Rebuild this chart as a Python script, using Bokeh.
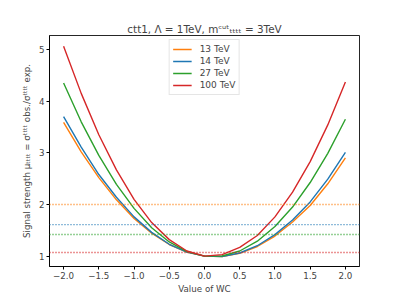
from bokeh.plotting import figure
from bokeh.models import Span, FixedTicker, Range1d, Legend, LegendItem
from bokeh.embed import file_html
from bokeh.resources import INLINE

# ---- data ----
wc = [-2.0, -1.75, -1.5, -1.25, -1.0, -0.75, -0.5, -0.25, 0.0,
      0.25, 0.5, 0.75, 1.0, 1.25, 1.5, 1.75, 2.0]
mu_13 = [3.59, 3.02, 2.52, 2.09, 1.73, 1.445, 1.226, 1.078, 1.0,
         0.992, 1.054, 1.187, 1.389, 1.66, 1.98, 2.40, 2.90]
mu_14 = [3.70, 3.11, 2.58, 2.14, 1.76, 1.46, 1.23, 1.08, 1.0,
         0.994, 1.061, 1.202, 1.417, 1.70, 2.05, 2.49, 3.01]
mu_27 = [4.35, 3.60, 2.95, 2.39, 1.925, 1.55, 1.275, 1.09, 1.0,
         1.003, 1.10, 1.29, 1.575, 1.95, 2.425, 2.99, 3.65]
mu_100 = [5.06, 4.15, 3.35, 2.67, 2.10, 1.65, 1.32, 1.10, 1.0,
          1.03, 1.17, 1.40, 1.76, 2.24, 2.83, 3.54, 4.37]
labels = ["13 TeV", "14 TeV", "27 TeV", "100 TeV"]
limits = [2.0, 1.61, 1.42, 1.07]
colors = ["#ff7f0e", "#1f77b4", "#2ca02c", "#d62728"]
x_ticks = [-2.0, -1.5, -1.0, -0.5, 0.0, 0.5, 1.0, 1.5, 2.0]
y_ticks = [1, 2, 3, 4, 5]

FONT = "DejaVu Sans"

p = figure(width=399, height=299, output_backend="svg", toolbar_location=None,
           x_range=Range1d(-2.2, 2.2), y_range=Range1d(0.80, 5.27),
           min_border_left=49, min_border_right=40, min_border_top=35, min_border_bottom=33)

p.title.text = "ctt1, Λ = 1TeV, mᶜᵘᵗₜₜₜₜ = 3TeV"
p.title.align = "center"
p.title.text_font = FONT
p.title.text_font_size = "10.4px"
p.title.text_font_style = "normal"
p.title.standoff = 1

p.xgrid.visible = False
p.ygrid.visible = False
p.outline_line_color = "black"
p.outline_line_width = 1
p.outline_line_alpha = 0.85

for ax in (p.xaxis, p.yaxis):
    ax.major_label_text_font = FONT
    ax.major_label_text_font_size = "8.7px"
    ax.axis_label_text_font = FONT
    ax.axis_label_text_font_size = "8.7px"
    ax.axis_label_text_font_style = "normal"
    ax.minor_tick_line_color = None
    ax.major_tick_out = 3
    ax.major_tick_in = 0
    ax.axis_line_color = "black"
    ax.axis_line_alpha = 0.85
    ax.major_label_standoff = 2

p.xaxis.ticker = FixedTicker(ticks=x_ticks)
p.xaxis.major_label_overrides = {t: ("%.1f" % t).replace("-", "\u2212") for t in x_ticks}
p.yaxis.ticker = FixedTicker(ticks=y_ticks)
p.xaxis.axis_label = "Value of WC"
p.xaxis.axis_label_standoff = 2
p.yaxis.axis_label = "Signal strength μₜₜₜₜ = σᵗᵗᵗᵗ obs./σᵗᵗᵗᵗ exp."
p.yaxis.axis_label_standoff = 4

series = [mu_13, mu_14, mu_27, mu_100]
items = []
for lab, ys, c in zip(labels, series, colors):
    r = p.line(wc, ys, line_color=c, line_width=1.4)
    items.append(LegendItem(label=lab, renderers=[r]))

for lim, c in zip(limits, colors):
    p.add_layout(Span(location=lim, dimension="width", line_color=c,
                      line_width=1.4, line_dash="1 2"))

legend = Legend(items=items, location="top_center", margin=4, padding=3, spacing=0,
                glyph_width=19, glyph_height=12, label_height=12, label_standoff=8,
                label_text_font=FONT, label_text_font_size="9px",
                border_line_color="#cccccc", border_line_width=1,
                background_fill_alpha=0.8)
p.add_layout(legend)

open("out.html", "w").write(file_html(p, INLINE))
